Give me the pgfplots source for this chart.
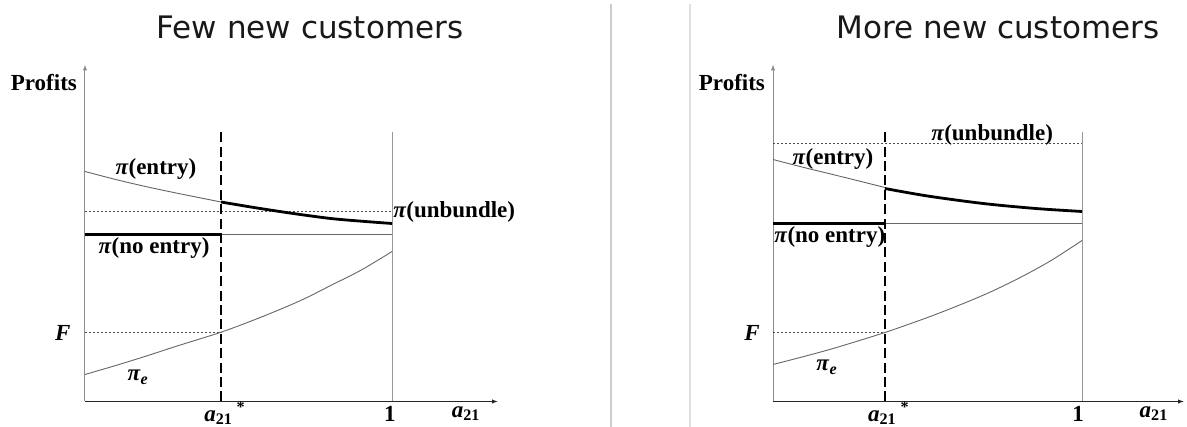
\documentclass[border=0pt]{standalone}
\usepackage{pgfplots}
\pgfplotsset{compat=1.18}
\usepackage{fontspec}
\setmainfont{Liberation Serif}
\newfontfamily\titlefont{DejaVu Sans}
\usetikzlibrary{arrows.meta}

\newcommand{\lab}{\fontsize{11.5}{13}\selectfont\bfseries}
\newcommand{\ppi}{\textit{π}}
\newcommand{\aat}{\textit{a}\textsubscript{21}}
\tikzset{lbl/.style={font=\lab, text=black, inner sep=1pt}}

\pgfplotsset{econ/.style={
  scale only axis, clip=false,
  axis x line=bottom, axis y line=left,
  xtick=\empty, ytick=\empty,
  ymin=0, ymax=337, xmin=0,
  height=168.5pt,
  x axis line style={draw=black!85, line width=0.5pt, -{Latex[length=3pt,width=2.2pt]}},
  y axis line style={draw=black!45, line width=0.5pt, -{Latex[length=3pt,width=2.2pt]}},
  thinc/.style={draw=black!60, line width=0.45pt, smooth},
  thickc/.style={draw=black, line width=1.4pt, smooth},
  dotl/.style={draw=black!70, line width=0.4pt, dash pattern=on 1pt off 1pt},
  dashv/.style={draw=black, line width=1.3pt, dash pattern=on 5pt off 2.2pt},
  vline/.style={draw=black!40, line width=0.5pt},
}}

\begin{document}
\begin{tikzpicture}
\useasboundingbox (0,0) rectangle (593.5pt,213.5pt);
\fill[white] (0,0) rectangle (593.5pt,213.5pt);
\draw[black!20, line width=0.6pt] (305.5pt,0) -- (305.5pt,211.5pt);
\draw[black!12, line width=0.6pt] (345pt,0) -- (345pt,211.5pt);
\node[font=\titlefont\fontsize{15.5}{18}\selectfont, text=black!90] at (155pt,200pt) {Few new customers};
\node[font=\titlefont\fontsize{15.5}{18}\selectfont, text=black!90] at (499pt,200pt) {More new customers};

% Left panel
\begin{axis}[econ, at={(42.5pt,12.75pt)}, anchor=south west, xmax=1.345, width=206.5pt]
\addplot[dotl] coordinates {(0,189.7) (1,189.7)};
\addplot[dotl] coordinates {(0,69.3) (0.443,69.3)};
\addplot[vline] coordinates {(1,0) (1,269)};
\addplot[thinc] coordinates {(0,230) (0.1,222) (0.2,214.8) (0.3,208.3) (0.443,199.5)};
\addplot[thickc] coordinates {(0.443,199.5) (0.55,194) (0.678,188) (0.8,183) (0.9,180.3) (1,178)};
\addplot[thickc, smooth=false] coordinates {(0,166.7) (0.443,166.7)};
\addplot[thinc, smooth=false] coordinates {(0.443,166.7) (1,166.7)};
\addplot[thinc] coordinates {(0,27) (0.1,36) (0.2,45.5) (0.3,55.5) (0.443,69.3) (0.55,81.5) (0.65,94) (0.723,104) (0.8,116) (0.9,131.5) (1,150)};
\addplot[dashv] coordinates {(0.443,0) (0.443,269)};
\node[lbl] at (axis cs:-0.134,319) {Profits};
\node[lbl] at (axis cs:0.231,232) {\ppi(entry)};
\node[lbl] at (axis cs:0.225,153) {\ppi(no entry)};
\node[lbl, anchor=west, inner sep=0pt] at (axis cs:1.003,190) {\ppi(unbundle)};
\node[lbl] at (axis cs:-0.072,69) {\textit{F}};
\node[lbl] at (axis cs:0.173,24) {\ppi\textsubscript{\textit{e}}};
\node[lbl] at (axis cs:0.456,-12) {\aat\,\textsuperscript{*}};
\node[lbl] at (axis cs:0.993,-12) {1};
\node[lbl] at (axis cs:1.241,-12) {\aat};
\end{axis}

% Right panel
\begin{axis}[econ, at={(386.5pt,12.75pt)}, anchor=south west, xmax=1.33, width=205.5pt]
\addplot[dotl] coordinates {(0,258) (1,258)};
\addplot[dotl] coordinates {(0,69) (0.362,69)};
\addplot[vline] coordinates {(1,0) (1,269)};
\addplot[thinc] coordinates {(0,242) (0.1,234) (0.2,226.5) (0.362,214)};
\addplot[thickc] coordinates {(0.362,213) (0.5,205.5) (0.68,198) (0.85,193) (1,190)};
\addplot[thickc, smooth=false] coordinates {(0,178) (0.362,178)};
\addplot[thinc, smooth=false] coordinates {(0.362,178) (1,178)};
\addplot[thinc] coordinates {(0,37) (0.1,45) (0.2,53.5) (0.362,69) (0.5,84) (0.6,96) (0.7,109) (0.8,124) (0.9,141) (1,161)};
\addplot[dashv] coordinates {(0.362,0) (0.362,269)};
\node[lbl] at (axis cs:-0.133,319) {Profits};
\node[lbl] at (axis cs:0.709,267) {\ppi(unbundle)};
\node[lbl] at (axis cs:0.194,242) {\ppi(entry)};
\node[lbl] at (axis cs:0.184,164) {\ppi(no entry)};
\node[lbl] at (axis cs:-0.068,69) {\textit{F}};
\node[lbl] at (axis cs:0.175,34) {\ppi\textsubscript{\textit{e}}};
\node[lbl] at (axis cs:0.375,-12) {\aat\,\textsuperscript{*}};
\node[lbl] at (axis cs:0.987,-12) {1};
\node[lbl] at (axis cs:1.233,-12) {\aat};
\end{axis}
\end{tikzpicture}
\end{document}
